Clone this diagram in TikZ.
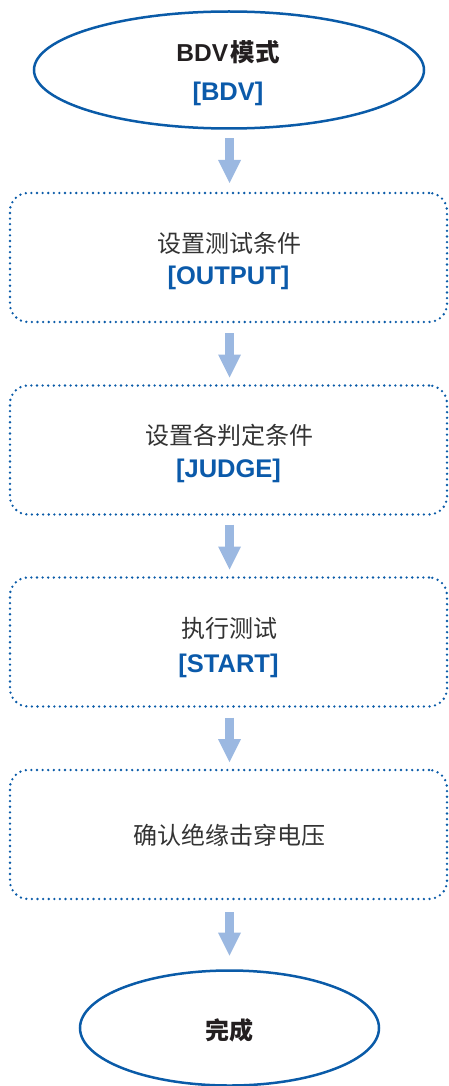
\documentclass[tikz,border=0pt]{standalone}
\usepackage{fontspec}
\setmainfont{Liberation Sans}
\newfontfamily\cjk{Noto Sans CJK SC}
\usetikzlibrary{shapes.geometric,arrows.meta,calc}
\definecolor{lineblue}{HTML}{0A5BA8}
\definecolor{textblue}{HTML}{0B5AAA}
\definecolor{arrowblue}{HTML}{9BB8E1}
\definecolor{textgrey}{HTML}{333333}
\definecolor{textblack}{HTML}{231F20}
\tikzset{
  oval/.style={ellipse, draw=lineblue, line width=2.5pt, inner sep=0pt, outer sep=0pt},
  stepbox/.style={rectangle, draw=lineblue, line width=2.6pt, line cap=round,
    dash pattern=on 0pt off 5.6pt, rounded corners=18pt,
    minimum width=437pt, minimum height=129pt, inner sep=0pt, outer sep=0pt},
  cjktext/.style={anchor=base, inner sep=0pt, font=\cjk\fontsize{24}{28}\selectfont, text=textgrey},
  cmdtext/.style={anchor=base, inner sep=0pt, font=\bfseries\fontsize{25.5}{30}\selectfont, text=textblue},
  flow/.style={draw=arrowblue, line width=8.5pt,
    -{Triangle[width=23pt,length=23pt,line width=0pt]}},
}
\begin{document}
\begin{tikzpicture}[x=1pt,y=-1pt]
\useasboundingbox (0,0) rectangle (448,1086);
% shapes
\node[oval, minimum width=390pt, minimum height=117pt] (start) at (229,70) {};
\node[stepbox] (b1) at (228.5,257.5) {};
\node[stepbox] (b2) at (228.5,450) {};
\node[stepbox] (b3) at (228.5,642) {};
\node[stepbox] (b4) at (228.5,834.5) {};
\node[oval, minimum width=299pt, minimum height=115pt] (done) at (229.5,1028) {};
% texts
\node[anchor=base, inner sep=0pt, font=\bfseries\fontsize{24.5}{28}\selectfont, text=textblack] (t0a) at (228,62) {BDV\kern2.5pt{\cjk 模式}};
\node[cmdtext] (t0b) at (228,101) {[BDV]};
\node[cjktext] (t1a) at (229,252) {设置测试条件};
\node[cmdtext] (t1b) at (228.5,284) {[OUTPUT]};
\node[cjktext] (t2a) at (229,444) {设置各判定条件};
\node[cmdtext] (t2b) at (228.5,477) {[JUDGE]};
\node[cjktext] (t3a) at (229,637) {执行测试};
\node[cmdtext] (t3b) at (228.5,672) {[START]};
\node[cjktext] (t4a) at (229,844) {确认绝缘击穿电压};
\node[cjktext, font=\cjk\bfseries\fontsize{24}{28}\selectfont, text=textblack] (t5a) at (229.5,1039) {完成};
% connectors
\draw[flow] ($(start.south)+(0.5,10)$) -- ($(b1.north)+(1,-10)$);
\draw[flow] ($(b1.south)+(1,11)$) -- ($(b2.north)+(1,-8)$);
\draw[flow] ($(b2.south)+(1,10)$) -- ($(b3.north)+(1,-8)$);
\draw[flow] ($(b3.south)+(1,11)$) -- ($(b4.north)+(1,-8)$);
\draw[flow] ($(b4.south)+(1,13)$) -- ($(done.north)+(0,-15)$);
\end{tikzpicture}
\end{document}
